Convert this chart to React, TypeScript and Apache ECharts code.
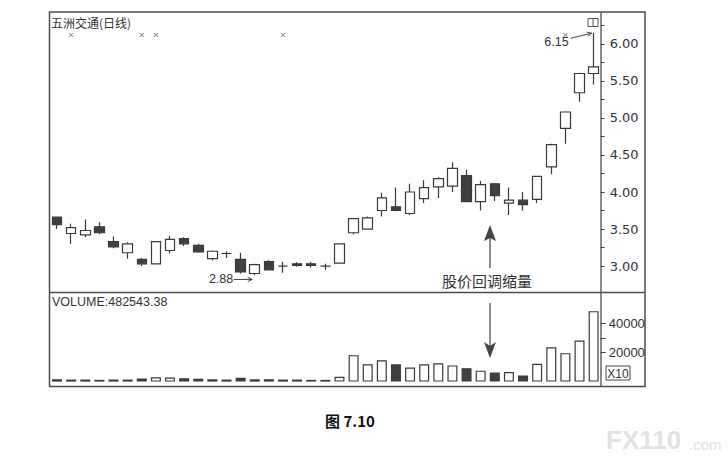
import { useEffect, useRef } from "react";
import * as echarts from "echarts";

// ---- data ----
const opens = [3.66, 3.44, 3.42, 3.53, 3.33, 3.18, 3.09, 3.03, 3.21, 3.37, 3.28, 3.10, 3.17, 3.09, 2.90, 3.06, 3.00, 3.03, 3.03, 3.00, 3.04, 3.45, 3.50, 3.75, 3.80, 3.71, 3.91, 4.07, 4.08, 4.22, 3.87, 4.11, 3.85, 3.89, 3.90, 4.34, 4.86, 5.34, 5.60];
const closes = [3.56, 3.52, 3.48, 3.45, 3.26, 3.30, 3.03, 3.33, 3.36, 3.30, 3.19, 3.20, 3.17, 2.92, 3.02, 2.95, 3.00, 3.01, 3.01, 3.00, 3.30, 3.64, 3.65, 3.92, 3.75, 4.00, 4.06, 4.18, 4.32, 3.87, 4.10, 3.95, 3.89, 3.83, 4.21, 4.64, 5.08, 5.60, 5.69];
const lows = [3.50, 3.30, 3.39, 3.43, 3.24, 3.10, 3.00, 3.02, 3.17, 3.27, 3.18, 3.08, 3.11, 2.90, 2.88, 2.94, 2.91, 2.99, 2.98, 2.95, 3.04, 3.43, 3.50, 3.67, 3.74, 3.69, 3.85, 3.92, 4.00, 3.87, 3.75, 3.88, 3.69, 3.75, 3.85, 4.24, 4.65, 5.22, 5.45];
const highs = [3.67, 3.57, 3.63, 3.59, 3.40, 3.32, 3.11, 3.34, 3.41, 3.39, 3.30, 3.21, 3.20, 3.18, 3.03, 3.08, 3.06, 3.05, 3.06, 3.03, 3.30, 3.65, 3.67, 3.99, 4.06, 4.11, 4.16, 4.20, 4.40, 4.30, 4.15, 4.12, 4.06, 4.00, 4.22, 4.65, 5.09, 5.61, 6.15];
const volumes = [1600, 1400, 1400, 1200, 1400, 1400, 2100, 3000, 2800, 2300, 1900, 1600, 1400, 2600, 1600, 1600, 1400, 1400, 1200, 1200, 3300, 18100, 11800, 14600, 11800, 9600, 11800, 12500, 11100, 9200, 7500, 6300, 6500, 4200, 12200, 23500, 19500, 28200, 48254];

const priceLabelValues = [3, 3.5, 4, 4.5, 5, 5.5, 6];
const priceTickValues = [3, 3.25, 3.5, 3.75, 4, 4.25, 4.5, 4.75, 5, 5.25, 5.5, 5.75, 6, 6.25];
const volumeLabelValues = [20000, 40000];
const volumeTickValues = [20000, 30000, 40000];

const infoMarkDays = [1, 6, 7, 16, 36];
const infoMarkLevel = 6.12;
const lowMarkDay = 14;
const lowMarkValue = 2.88;
const highMarkDay = 38;
const highMarkValue = 6.15;

const titleText = "五洲交通(日线)";
const volumeText = "VOLUME:482543.38";
const noteText = "股价回调缩量";
const captionText = "图 7.10";

const days = opens.map((_, i) => String(i + 1));

const INK = "#3a3a3a";
const FILL = "#404040";
const FRAME = "#4d4d4d";
const CROSS_SYMBOL = "path://M0,0L2,0L5,3L8,0L10,0L6,4L10,8L8,8L5,5L2,8L0,8L4,4Z";

function arrowShapes(x1: number, y1: number, x2: number, y2: number, size: number, color: string) {
  const a = Math.atan2(y2 - y1, x2 - x1);
  const h1 = [x2 - size * Math.cos(a - 0.45), y2 - size * Math.sin(a - 0.45)];
  const h2 = [x2 - size * Math.cos(a + 0.45), y2 - size * Math.sin(a + 0.45)];
  return [
    { type: "line", shape: { x1, y1, x2, y2 }, style: { stroke: color, lineWidth: 1 } },
    { type: "polyline", shape: { points: [h1, [x2, y2], h2] }, style: { stroke: color, lineWidth: 1, fill: "none" } },
  ];
}

export default function App() {
  const ref = useRef<HTMLDivElement>(null);
  useEffect(() => {
    const chart = echarts.init(ref.current!, null, { renderer: "svg" });
    chart.setOption({
      animation: false,
      backgroundColor: "#fff",
      grid: [
        { left: 50, top: 12, width: 550.7, height: 280 },
        { left: 50, top: 294, width: 550.7, height: 87.6 },
      ],
      xAxis: [
        { type: "category", gridIndex: 0, data: days, show: false, boundaryGap: true },
        { type: "category", gridIndex: 1, data: days, show: false, boundaryGap: true },
      ],
      yAxis: [
        {
          type: "value",
          gridIndex: 0,
          position: "right",
          min: 2.65,
          max: 6.43,
          axisLine: { show: false },
          splitLine: { show: false },
          axisTick: { show: true, length: 4, customValues: priceTickValues, lineStyle: { color: "#444" } },
          axisLabel: {
            customValues: priceLabelValues,
            formatter: (v: number) => v.toFixed(2),
            margin: 9,
            fontSize: 13,
            fontFamily: "DejaVu Sans",
            color: "#333",
          },
        },
        {
          type: "value",
          gridIndex: 1,
          position: "right",
          min: 0,
          max: 60000,
          axisLine: { show: false },
          splitLine: { show: false },
          axisTick: { show: true, length: 5, customValues: volumeTickValues, lineStyle: { color: "#444" } },
          axisLabel: {
            customValues: volumeLabelValues,
            formatter: (v: number) => String(v),
            margin: 8,
            fontSize: 13,
            fontFamily: "Liberation Sans",
            color: "#333",
          },
        },
      ],
      series: [
        {
          type: "candlestick",
          xAxisIndex: 0,
          yAxisIndex: 0,
          barWidth: 10,
          data: opens.map((o, i) => [o, closes[i], lows[i], highs[i]]),
          itemStyle: {
            color: "#fff",
            color0: FILL,
            borderColor: INK,
            borderColor0: INK,
            borderWidth: 1.2,
          },
        },
        {
          type: "scatter",
          xAxisIndex: 0,
          yAxisIndex: 0,
          symbol: CROSS_SYMBOL,
          symbolSize: [5, 4],
          itemStyle: { color: "#555" },
          data: infoMarkDays.map((d) => [d, infoMarkLevel]),
        },
        {
          type: "bar",
          xAxisIndex: 1,
          yAxisIndex: 1,
          barWidth: 10,
          data: volumes.map((v, i) => ({
            value: v,
            itemStyle: { color: closes[i] >= opens[i] ? "#fff" : FILL },
          })),
          itemStyle: { borderColor: INK, borderWidth: 1.2 },
        },
      ],
    });

    const hp = chart.convertToPixel({ xAxisIndex: 0, yAxisIndex: 0 }, [highMarkDay, highMarkValue]) as number[];
    const lp = chart.convertToPixel({ xAxisIndex: 0, yAxisIndex: 0 }, [lowMarkDay, lowMarkValue]) as number[];

    const graphic: any[] = [
      { type: "rect", shape: { x: 49.5, y: 12, width: 595.5, height: 374.5 }, style: { fill: "none", stroke: FRAME, lineWidth: 1.5 } },
      { type: "line", shape: { x1: 601, y1: 12, x2: 601, y2: 386.5 }, style: { stroke: FRAME, lineWidth: 1.3 } },
      { type: "line", shape: { x1: 49.5, y1: 292.5, x2: 645, y2: 292.5 }, style: { stroke: FRAME, lineWidth: 1.3 } },
      { type: "text", x: 51, y: 22.5, style: { text: titleText, fontSize: 12, fontFamily: "Noto Sans CJK SC", fill: "#333", verticalAlign: "middle" } },
      { type: "text", x: 52, y: 301.5, style: { text: volumeText, fontSize: 12.5, fontFamily: "Liberation Sans", fill: "#333", verticalAlign: "middle" } },
      { type: "rect", shape: { x: 606, y: 366, width: 24, height: 14 }, style: { fill: "none", stroke: "#444", lineWidth: 1 } },
      { type: "text", x: 618, y: 373.5, style: { text: "X10", fontSize: 12, fontFamily: "Liberation Sans", fill: "#333", align: "center", verticalAlign: "middle" } },
      { type: "rect", shape: { x: 588, y: 18.5, width: 10, height: 8 }, style: { fill: "none", stroke: "#555", lineWidth: 1 } },
      { type: "line", shape: { x1: 593, y1: 18.5, x2: 593, y2: 26.5 }, style: { stroke: "#555", lineWidth: 1 } },
      // 6.15 annotation
      { type: "text", x: hp[0] - 25, y: hp[1] + 9, style: { text: "6.15", fontSize: 12.5, fontFamily: "Liberation Sans", fill: "#333", align: "right", verticalAlign: "middle" } },
      ...arrowShapes(hp[0] - 23, hp[1] + 5.5, hp[0] - 2, hp[1] + 0.5, 5, "#444"),
      // 2.88 annotation
      { type: "text", x: lp[0] - 21.5, y: lp[1] + 4.5, style: { text: "2.88", fontSize: 12.5, fontFamily: "Liberation Sans", fill: "#333", align: "right", verticalAlign: "middle" } },
      ...arrowShapes(lp[0] - 21, lp[1] + 4.5, lp[0] - 2.5, lp[1] + 4.5, 5, "#444"),
      // big arrows and note
      { type: "line", shape: { x1: 490, y1: 268, x2: 490, y2: 238 }, style: { stroke: "#444", lineWidth: 1.2 } },
      { type: "polygon", shape: { points: [[490, 225], [496, 241], [490, 238], [484, 241]] }, style: { fill: "#444" } },
      { type: "text", x: 487, y: 280, style: { text: noteText, fontSize: 15, fontFamily: "Noto Sans CJK SC", fill: "#333", align: "center", verticalAlign: "middle" } },
      { type: "line", shape: { x1: 490, y1: 303, x2: 490, y2: 347 }, style: { stroke: "#444", lineWidth: 1.2 } },
      { type: "polygon", shape: { points: [[490, 358], [484, 342], [490, 346], [496, 342]] }, style: { fill: "#444" } },
      // caption and watermark
      { type: "text", x: 325, y: 420, style: { text: captionText, fontSize: 15, fontWeight: "bold", fontFamily: "Noto Sans CJK SC", fill: "#111", verticalAlign: "middle" } },
      { type: "text", x: 606, y: 440, style: { text: "FX110", fontSize: 26, fontWeight: "bold", fontFamily: "Liberation Sans", fill: "#e3e3e3", verticalAlign: "middle" } },
      { type: "text", x: 689, y: 444, style: { text: ".com", fontSize: 15, fontFamily: "Liberation Sans", fill: "#e3e3e3", verticalAlign: "middle" } },
    ];
    chart.setOption({ graphic });
    return () => chart.dispose();
  }, []);
  return (
    <div
      ref={ref}
      style={{ position: "fixed", left: 0, top: 0, width: 728, height: 463, background: "#fff" }}
    />
  );
}
